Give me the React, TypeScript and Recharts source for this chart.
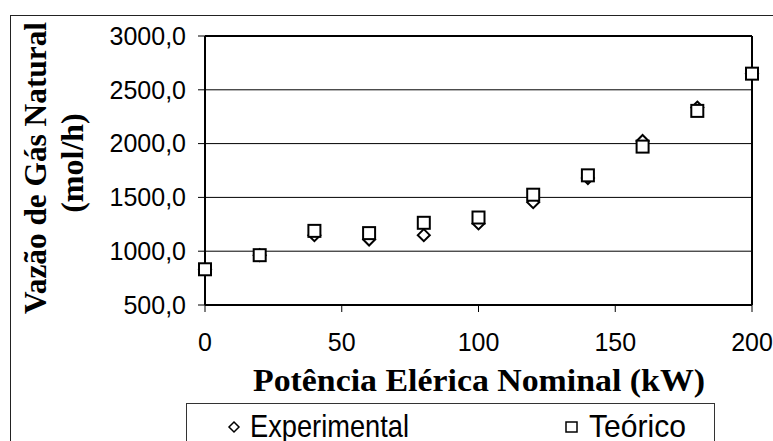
import React from "react";
import { ScatterChart, Scatter, XAxis, YAxis, CartesianGrid, ReferenceLine } from "recharts";

const potencia = [0, 20, 40, 60, 80, 100, 120, 140, 160, 180, 200];
const experimental = [832, 963, 1149, 1109, 1149, 1258, 1456, 1680, 2024, 2335, 2650];
const teorico = [832, 963, 1189, 1168, 1264, 1313, 1525, 1705, 1972, 2304, 2650];
const xTicks = [0, 50, 100, 150, 200];
const yTicks = [500, 1000, 1500, 2000, 2500, 3000];
const seriesNames = ["Experimental", "Teórico"];

const expData = potencia.map((p, i) => ({ x: p, y: experimental[i] }));
const teoData = potencia.map((p, i) => ({ x: p, y: teorico[i] }));

const sans = "'Liberation Sans', Arial, sans-serif";
const serif = "'Liberation Serif', 'Times New Roman', serif";

const Square = (props: any) => {
  const { cx, cy } = props;
  return <rect x={cx - 6} y={cy - 6} width={12} height={12} fill="#fff" stroke="#000" strokeWidth={2} />;
};

const Diamond = (props: any) => {
  const { cx, cy } = props;
  return (
    <polygon
      points={`${cx},${cy - 6} ${cx + 6},${cy} ${cx},${cy + 6} ${cx - 6},${cy}`}
      fill="#fff"
      stroke="#000"
      strokeWidth={2}
    />
  );
};

const fmt = (v: number) => v.toFixed(1).replace(".", ",");

const YTitle = () => (
  <g fontFamily={serif} fontWeight="bold" fontSize={32} fill="#000">
    <text x={46} y={168} textAnchor="middle" transform="rotate(-90 46 168)" textLength={292} lengthAdjust="spacingAndGlyphs">
      Vazão de Gás Natural
    </text>
    <text x={83} y={163} textAnchor="middle" transform="rotate(-90 83 163)">
      (mol/h)
    </text>
  </g>
);

const XTitle = () => (
  <text x={479} y={391} textAnchor="middle" fontFamily={serif} fontWeight="bold" fontSize={31} fill="#000" textLength={452} lengthAdjust="spacingAndGlyphs">
    Potência Elérica Nominal (kW)
  </text>
);

// legend drawn over the chart, like the boxed legend of the original
const LegendBox = () => (
  <svg width={530} height={40} style={{ position: "absolute", left: 186, top: 403, display: "block" }}>
    <rect x={0.5} y={0.5} width={528} height={50} fill="#fff" stroke="#333" strokeWidth={1} />
    <polygon points="48,19 53,24 48,29 43,24" fill="#fff" stroke="#000" strokeWidth={1.5} />
    <text x={64} y={34} fontFamily={sans} fontSize={32} fill="#000" textLength={159} lengthAdjust="spacingAndGlyphs">{seriesNames[0]}</text>
    <rect x={380} y={19} width={11} height={10} fill="#fff" stroke="#000" strokeWidth={1.5} />
    <text x={403} y={34} fontFamily={sans} fontSize={32} fill="#000" textLength={97} lengthAdjust="spacingAndGlyphs">{seriesNames[1]}</text>
  </svg>
);

export default function App() {
  return (
    <div style={{ position: "absolute", left: 0, top: 0, width: 773, height: 441, overflow: "hidden", background: "#fff" }}>
      <div style={{ position: "absolute", left: 10, top: 15, width: 800, height: 500, border: "1.5px solid #222" }} />
      <div style={{ position: "absolute", left: 0, top: 0 }}>
        <ScatterChart width={773} height={441} margin={{ top: 36, right: 21, bottom: 0, left: 0 }}>
          <CartesianGrid vertical={false} stroke="#000" strokeWidth={1} />
          <XAxis
            type="number"
            dataKey="x"
            domain={[0, 200]}
            ticks={xTicks}
            height={136}
            stroke="#000"
            strokeWidth={2}
            tickSize={7}
            tickMargin={21}
            tick={{ fontFamily: sans, fontSize: 25, fill: "#000" }}
            tickLine={{ stroke: "#000", strokeWidth: 1 }}
            label={{ content: () => <XTitle /> }}
          />
          <YAxis
            type="number"
            dataKey="y"
            domain={[500, 3000]}
            ticks={yTicks}
            width={205}
            stroke="#000"
            strokeWidth={2}
            tickSize={7}
            tickMargin={12}
            tickFormatter={fmt}
            tick={{ fontFamily: sans, fontSize: 25, fill: "#000" }}
            tickLine={{ stroke: "#000", strokeWidth: 1 }}
            label={{ content: () => <YTitle /> }}
          />
          <ReferenceLine y={3000} stroke="#000" strokeWidth={2} />
          <ReferenceLine x={200} stroke="#000" strokeWidth={2} />
          <Scatter name={seriesNames[0]} data={expData} shape={Diamond} isAnimationActive={false} />
          <Scatter name={seriesNames[1]} data={teoData} shape={Square} isAnimationActive={false} />
        </ScatterChart>
      </div>
      <LegendBox />
    </div>
  );
}
